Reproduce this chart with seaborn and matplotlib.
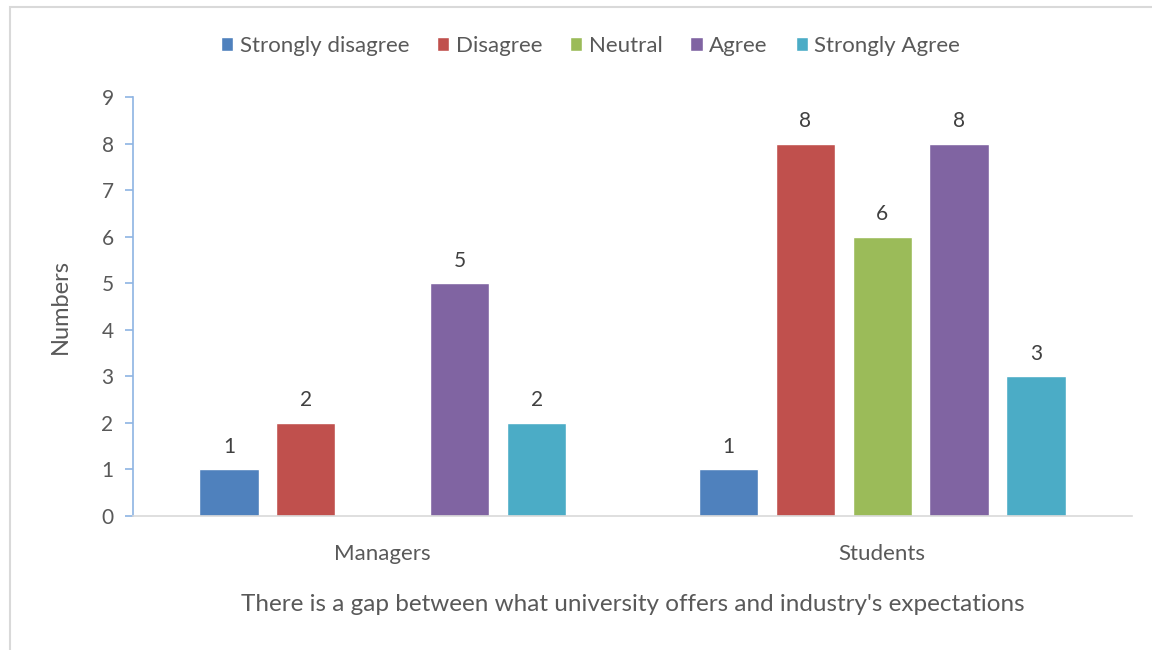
import matplotlib
matplotlib.use("Agg")
import matplotlib.pyplot as plt
import seaborn as sns
import pandas as pd
from matplotlib.patches import Rectangle

groups = ["Managers", "Students"]
responses = ["Strongly disagree", "Disagree", "Neutral", "Agree", "Strongly Agree"]
managers = [1, 2, 0, 5, 2]
students = [1, 8, 6, 8, 3]
colors = ["#4F81BD", "#C0504D", "#9BBB59", "#8064A2", "#4BACC6"]

rows = []
for g, vals in zip(groups, [managers, students]):
    for r, v in zip(responses, vals):
        rows.append({"group": g, "response": r, "value": v})
df = pd.DataFrame(rows)

sns.set_theme(style="white")
plt.rcParams["font.family"] = ["Lato", "DejaVu Sans"]
text_color = "#595959"

fig = plt.figure(figsize=(11.52, 6.5), dpi=100)
ax = fig.add_axes([0.1155, 0.2062, 0.867, 0.6446])

sns.barplot(data=df, x="group", y="value", hue="response", hue_order=responses,
            palette=colors, width=0.77, gap=0.23, saturation=1, ax=ax,
            legend=True, errorbar=None)

for cont in ax.containers:
    labels = [f"{v:g}" if v > 0 else "" for v in cont.datavalues]
    ax.bar_label(cont, labels=labels, padding=9, fontsize=15, color="#404040")

ax.set_ylim(0, 9)
ax.set_xlim(-0.5, 1.5)
ax.set_yticks(range(0, 10))
ax.tick_params(axis="y", which="both", left=True, length=6, width=1.2,
               color="#8EB4E3", labelsize=15, labelcolor=text_color, pad=8)
ax.tick_params(axis="x", bottom=False, labelsize=16, labelcolor=text_color, pad=14)

for s in ["top", "right"]:
    ax.spines[s].set_visible(False)
ax.spines["left"].set_color("#8EB4E3")
ax.spines["left"].set_linewidth(1.2)
ax.spines["bottom"].set_color("#D9D9D9")
ax.spines["bottom"].set_linewidth(1.2)

ax.set_ylabel("Numbers", fontsize=17, color=text_color, labelpad=22)
ax.set_xlabel("There is a gap between what university offers and industry's expectations",
              fontsize=17.5, color=text_color, labelpad=22)

handles, labs = ax.get_legend_handles_labels()
ax.legend(handles, labs, loc="center", bbox_to_anchor=(0.458, 1.122),
          ncol=5, frameon=False, fontsize=16, handlelength=0.55, handleheight=0.55,
          handletextpad=0.3, columnspacing=1.25, labelcolor=text_color)

# light outer frame
fig.patches.append(Rectangle((10 / 1152, -0.1), 1.2, 1 - 7 / 650 + 0.1,
                             transform=fig.transFigure, fill=False,
                             edgecolor="#D9D9D9", linewidth=1.5))

fig.savefig("out.png", dpi=100)
